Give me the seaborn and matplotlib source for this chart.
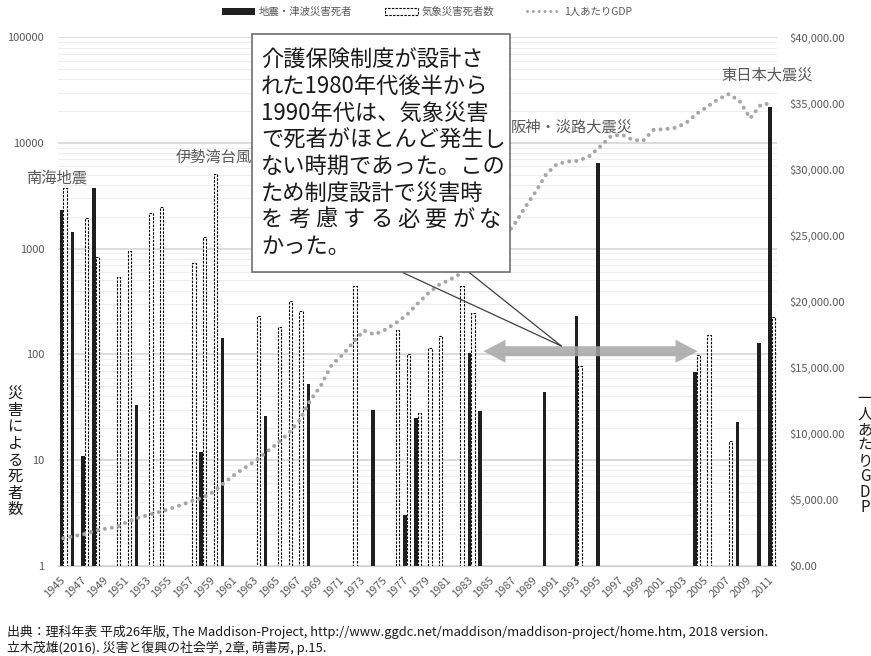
import numpy as np
import pandas as pd
import matplotlib
matplotlib.use("Agg")
import matplotlib.pyplot as plt
import seaborn as sns
from matplotlib.patches import Patch, Rectangle, Polygon, ConnectionPatch
from matplotlib.lines import Line2D
from matplotlib.transforms import IdentityTransform
from matplotlib.ticker import FixedLocator, FuncFormatter, NullFormatter

# ---- data -------------------------------------------------------------
years = list(range(1945, 2012))

quake_years = [1945, 1946, 1947, 1948, 1952, 1958, 1960, 1964, 1968, 1974, 1977,
               1978, 1983, 1984, 1990, 1993, 1995, 2004, 2008, 2010, 2011]
quake_deaths = [2306, 1443, 11, 3769, 33, 12, 142, 26, 52, 30, 3,
                25, 104, 29, 44, 230, 6437, 68, 23, 127, 21800]

weather_years = [1945, 1947, 1948, 1950, 1951, 1953, 1954, 1957, 1958, 1959, 1963,
                 1965, 1966, 1967, 1972, 1976, 1977, 1978, 1979, 1980, 1982, 1983,
                 1993, 2004, 2005, 2007, 2011]
weather_deaths = [3756, 1930, 838, 539, 953, 2172, 2455, 728, 1276, 5100, 232,
                  181, 318, 256, 447, 170, 100, 28, 114, 150, 444, 248,
                  78, 98, 152, 15, 227]

gdp_per_capita = [2080, 2240, 2400, 2660, 2810, 2940, 3330, 3630, 3860, 4080,
                  4330, 4600, 4910, 5170, 5590, 6280, 6920, 7460, 8000, 8650,
                  9300, 10040, 11000, 12500, 13630, 15200, 15950, 16900, 17800, 17500,
                  17870, 18380, 18980, 19830, 20630, 21250, 21650, 22100, 22700, 23300,
                  24100, 24800, 25800, 27100, 28300, 29650, 30400, 30600, 30650, 31000,
                  31700, 32500, 32650, 32250, 32150, 33000, 33040, 33150, 33500, 34200,
                  34750, 35300, 35700, 35200, 33870, 34900, 35000]

series_names = ["地震・津波災害死者", "気象災害死者数", "1人あたりGDP"]
# (label, year it refers to, shift in category widths, height on the deaths scale)
events = [("南海地震", 1946, -1.6, 4660), ("伊勢湾台風", 1959, 0.0, 7245),
          ("阪神・淡路大震災", 1995, -2.6, 14230), ("東日本大震災", 2011, -0.45, 43900)]

note_lines = ["介護保険制度が設計さ", "れた1980年代後半から", "1990年代は、気象災害",
              "で死者がほとんど発生し", "ない時期であった。この", "ため制度設計で災害時",
              "を考慮する必要がな", "かった。"]
period_start, period_end, period_level = 1984, 2004, 107

source_lines = ["出典：理科年表 平成26年版, The Maddison-Project, "
                "http://www.ggdc.net/maddison/maddison-project/home.htm, 2018 version.",
                "立木茂雄(2016). 災害と復興の社会学, 2章, 萌書房, p.15."]

# ---- style ------------------------------------------------------------
sns.set_style("white")
plt.rcParams["font.family"] = ["Noto Sans CJK JP", "DejaVu Sans"]
GRAY_TXT = "#595959"
BLACK = "#1f1f1f"
LINE_GRAY = "#a6a6a6"

long = pd.concat([
    pd.DataFrame({"year": quake_years, "deaths": quake_deaths, "series": series_names[0]}),
    pd.DataFrame({"year": weather_years, "deaths": weather_deaths, "series": series_names[1]}),
], ignore_index=True)

fig = plt.figure(figsize=(8.71, 6.56), dpi=100)
W, H = 871, 656
ax = fig.add_axes([58 / W, 1 - 565.7 / H, (777 - 58) / W, (565.7 - 37.3) / H])

sns.barplot(data=long, x="year", y="deaths", hue="series", order=years,
            hue_order=series_names[:2], palette=[BLACK, "white"], width=0.64,
            dodge=True, errorbar=None, saturation=1, legend=False, ax=ax)

# weather bars: white with a dashed black outline
for bar in ax.containers[1]:
    bar.set_edgecolor("black")
    bar.set_linestyle((0, (2.2, 1.2)))
    bar.set_linewidth(0.8)
for bar in ax.containers[0]:
    bar.set_edgecolor("none")

ax.set_yscale("log")
ax.set_ylim(1, 100000)
ax.set_xlim(-0.5, len(years) - 0.5)
ax.yaxis.set_major_locator(FixedLocator([1, 10, 100, 1000, 10000, 100000]))
ax.yaxis.set_major_formatter(FuncFormatter(lambda v, p: f"{int(round(v))}"))
ax.yaxis.set_minor_locator(FixedLocator([m * 10 ** e for e in range(5) for m in range(2, 10)]))
ax.yaxis.set_minor_formatter(NullFormatter())
ax.grid(which="major", axis="y", color="#d9d9d9", lw=1.3)
ax.grid(which="minor", axis="y", color="#eeeeee", lw=0.8)
ax.grid(which="both", axis="x", visible=False)
ax.set_axisbelow(True)

idx = np.arange(len(years))
ax.set_xticks(idx[::2])
ax.set_xticklabels([str(y) for y in years[::2]], rotation=45, ha="right", va="center",
                   rotation_mode="anchor", fontsize=8, color=GRAY_TXT)
ax.set_xticks(np.arange(-0.5, len(years), 1), minor=True)
ax.tick_params(axis="x", which="major", length=0, pad=9)
ax.tick_params(axis="x", which="minor", length=4, color="#d0d0d0", width=0.8)
ax.tick_params(axis="y", which="both", length=0, pad=10, labelsize=8, labelcolor=GRAY_TXT)
ax.set_xlabel("")
ax.set_ylabel("")
for s in ["left", "right", "top"]:
    ax.spines[s].set_visible(False)
ax.spines["bottom"].set_color("#d0d0d0")

# GDP per capita on a secondary axis, drawn as a round-dot line
ax2 = ax.twinx()
sns.lineplot(x=idx, y=gdp_per_capita, ax=ax2, color=LINE_GRAY, lw=2.9,
             linestyle=(0, (0.01, 1.75)), dash_capstyle="round")
ax2.set_ylim(0, 40000)
ax2.set_xlim(-0.5, len(years) - 0.5)
ax2.set_yticks(np.arange(0, 40001, 5000))
ax2.yaxis.set_major_formatter(FuncFormatter(lambda v, p: f"${v:,.2f}"))
ax2.tick_params(axis="y", length=0, pad=9, labelsize=8, labelcolor=GRAY_TXT)
ax2.grid(False)
ax2.set_ylabel("")
for s in ax2.spines.values():
    s.set_visible(False)

# event labels
for name, yr, shift, level in events:
    ax.text(years.index(yr) + shift, level, name, ha="center", va="center",
            fontsize=11, color=GRAY_TXT, clip_on=False)

# axis titles, stacked vertically
fig.text(15 / W, 1 - 452 / H, "\n".join("災害による死者数"), ha="center", va="center",
         multialignment="center", fontsize=11, linespacing=0.96, color="#1a1a1a")
fig.text(865 / W, 1 - 453 / H, "\n".join("一人あたりGDP"), ha="center", va="center",
         multialignment="center", fontsize=11, linespacing=0.9, color="#1a1a1a")

# legend
handles = [Patch(facecolor=BLACK, edgecolor="none"),
           Patch(facecolor="white", edgecolor="black", linestyle=(0, (2.2, 1.2)), lw=0.8),
           Line2D([], [], color=LINE_GRAY, lw=2.2, linestyle=(0, (0.01, 1.9)), dash_capstyle="round")]
leg = fig.legend(handles, series_names, loc="center", bbox_to_anchor=(0.49, 1 - 12 / H),
                 ncol=3, frameon=False, fontsize=7.5, handlelength=3.2, handleheight=0.7,
                 columnspacing=3.2, handletextpad=0.3)
for t in leg.get_texts():
    t.set_color(GRAY_TXT)

# double-headed arrow marking the period
x_l, y_a = ax.transData.transform((years.index(period_start) + 0.15, period_level))
x_r, _ = ax.transData.transform((years.index(period_end) + 0.1, period_level))
sw, hw, hl = 5, 11.5, 22
pts = [(x_l, y_a), (x_l + hl, y_a + hw), (x_l + hl, y_a + sw), (x_r - hl, y_a + sw),
       (x_r - hl, y_a + hw), (x_r, y_a), (x_r - hl, y_a - hw), (x_r - hl, y_a - sw),
       (x_l + hl, y_a - sw), (x_l + hl, y_a - hw)]
fig.add_artist(Polygon(pts, closed=True, transform=IdentityTransform(),
                       facecolor=LINE_GRAY, edgecolor="none", alpha=0.85, zorder=3))

# callout box
bx0, bx1, by0, by1 = 251.7, 510, 34, 271.7
fig.add_artist(Rectangle((bx0 / W, 1 - by1 / H), (bx1 - bx0) / W, (by1 - by0) / H,
                         transform=fig.transFigure, facecolor="white",
                         edgecolor="#6e6e6e", lw=1.2, zorder=5))
tip = (46.4, 120)
for sx, sy in [(403, 272.7), (466.7, 270.5)]:
    fig.add_artist(ConnectionPatch(xyA=(sx / W, 1 - sy / H), coordsA="figure fraction",
                                   xyB=tip, coordsB=ax.transData,
                                   color="#404040", lw=0.9, zorder=4))
for k, line in enumerate(note_lines):
    yy = 1 - (60 + 26.6 * k) / H
    if k == 6:
        for j, ch in enumerate(line):
            fig.text((261 + 27.3 * j) / W, yy, ch, ha="left", va="center",
                     fontsize=16, color="#1a1a1a", zorder=6)
    else:
        fig.text(261 / W, yy, line, ha="left", va="center", fontsize=16,
                 color="#1a1a1a", zorder=6)

# source
fig.text(7 / W, 1 - 632 / H, source_lines[0], ha="left", va="center", fontsize=9.3, color="#1a1a1a")
fig.text(7 / W, 1 - 648 / H, source_lines[1], ha="left", va="center", fontsize=9.3, color="#1a1a1a")

fig.savefig("out.png", dpi=100)
